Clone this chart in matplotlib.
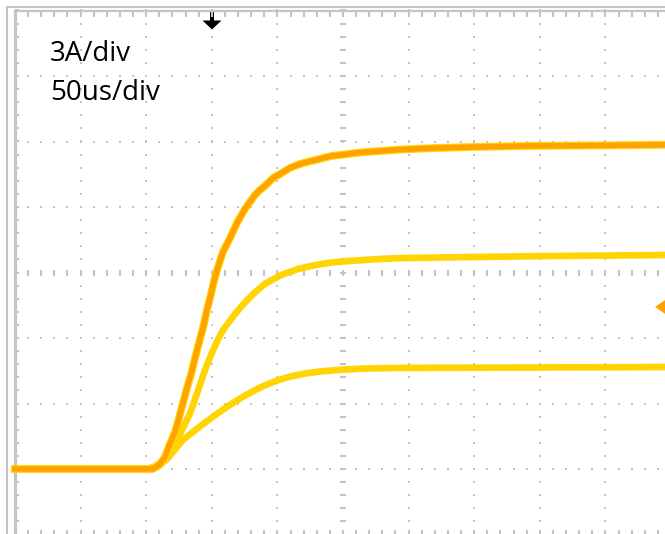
import matplotlib
matplotlib.use('Agg')
import matplotlib.pyplot as plt
import numpy as np
from matplotlib.patches import Polygon
from matplotlib.collections import LineCollection

# Scope capture: 3 A/div, 50 us/div, three current steps
# time in us, current in A (0 A sits one division above the bottom)
t_big = [0, 105, 110.5, 114.3, 118.1, 122, 125, 128, 131.1, 134.2, 137.2, 140.2, 143.3,
         146.3, 149.4, 151.7, 154.7, 158.5, 163.9, 169.2, 175.3, 179.1, 182.9, 186.7,
         190.5, 196.7, 202, 209.6, 217.2, 222.6, 228.7, 234.8, 241.6, 247.7, 259.1,
         268.3, 282, 293.4, 320, 350, 395, 450, 496]
i_big = [0, 0, 0.23, 0.55, 1.15, 1.7, 2.34, 3.02, 3.71, 4.35, 5.08, 5.77, 6.46,
         7.28, 8.01, 8.61, 9.25, 9.94, 10.58, 11.27, 11.91, 12.23, 12.55, 12.78,
         12.96, 13.33, 13.51, 13.79, 13.97, 14.06, 14.15, 14.24, 14.34, 14.38, 14.47,
         14.52, 14.58, 14.63, 14.7, 14.75, 14.8, 14.82, 14.85]

t_mid = [0, 103, 110, 115, 120.4, 127, 133.4, 138.7, 144.8, 149.4, 154, 158.5, 163.9,
         167.7, 171.5, 175.3, 182.9, 190.5, 202.7, 215.7, 228.7, 241.6, 255.3, 278.2,
         293.4, 400, 496]
i_mid = [0, 0, 0.15, 0.45, 1.0, 1.75, 2.55, 3.45, 4.53, 5.22, 5.85, 6.35, 6.8,
         7.1, 7.37, 7.63, 8.09, 8.48, 8.88, 9.16, 9.34, 9.46, 9.53, 9.62,
         9.66, 9.75, 9.8]

t_low = [0, 100, 106, 112, 115.9, 122, 128, 134.9, 141, 147.1, 154, 160, 166, 175.3,
         184.5, 190.5, 196.7, 202.7, 209.6, 217.2, 222.6, 234.8, 247.7, 265.2, 293.4,
         400, 496]
i_low = [0, 0, 0.1, 0.3, 0.45, 0.9, 1.33, 1.66, 1.95, 2.23, 2.53, 2.78, 3.02, 3.36,
         3.66, 3.83, 3.98, 4.11, 4.23, 4.33, 4.39, 4.48, 4.54, 4.60, 4.63,
         4.65, 4.67]

labels = ['3A/div', '50us/div']

ORANGE = '#FFA200'
YELLOW = '#FFD400'
GRID = '#c4c4c4'

# pixel -> data helpers for the screen furniture
def tx(px):
    return (px - 15) * 50 / 65.6

def iy(py):
    return (469 - py) * 3 / 65.5

fig = plt.figure(figsize=(6.65, 5.34), dpi=100)
ax = fig.add_axes([0, 0, 1, 1])
ax.set_xlim(tx(0), tx(665))
ax.set_ylim(iy(534), iy(0))
ax.set_axis_off()

# outer frame of the screenshot
ax.plot([tx(7), tx(7)], [iy(534), iy(7)], color=GRID, lw=1.5)
ax.plot([tx(7), tx(665)], [iy(7), iy(7)], color=GRID, lw=1.5)

# dotted graticule
sub_i = np.arange(-3, 21.01, 0.6)
sub_t = np.arange(0, 500.1, 10)
for k in range(1, 10):
    if k == 5:
        continue
    ax.scatter(np.full(len(sub_i), 50 * k), sub_i, s=3, marker='s', color=GRID, linewidths=0)
for m in range(1, 8):
    if m == 4:
        continue
    ax.scatter(sub_t, np.full(len(sub_t), -3 + 3 * m), s=3, marker='s', color=GRID, linewidths=0)

# centre cross with dashes
ax.plot(np.full(len(sub_i), 250), sub_i, ls='none', marker='_', ms=4.5, mew=1.5, color=GRID)
ax.plot(sub_t, np.full(len(sub_t), 9), ls='none', marker='|', ms=4.5, mew=1.5, color=GRID)

# screen edges with ticks
ax.plot([0, 0], [-3, 21], color=GRID, lw=2.2)
ax.plot([0, 500], [21, 21], color=GRID, lw=1.6)
ticks = [[(0, v), (tx(19), v)] for v in sub_i]
ticks += [[(v, 21), (v, iy(17))] for v in sub_t]
ticks += [[(v, -3), (v, iy(530))] for v in sub_t]
ax.add_collection(LineCollection(ticks, colors=GRID, linewidths=1.5))

# traces
ax.plot(t_low, i_low, color=YELLOW, lw=4.8, solid_joinstyle='round')
ax.plot(t_mid, i_mid, color=YELLOW, lw=4.8, solid_joinstyle='round')
ax.plot(t_big, i_big, color=YELLOW, lw=5.6, solid_joinstyle='round')
ax.plot(t_big, i_big, color=ORANGE, lw=3.9, solid_joinstyle='round')

# trigger position arrow
ax.add_patch(Polygon([(tx(210), iy(12)), (tx(214), iy(12)), (tx(214), iy(20.5)),
                      (tx(221.5), iy(20.5)), (tx(212), iy(29.5)), (tx(202.5), iy(20.5)),
                      (tx(210), iy(20.5))], closed=True, color='black', lw=0))
# trigger level marker
ax.add_patch(Polygon([(tx(655), iy(307)), (tx(668), iy(298)), (tx(668), iy(316))],
                     closed=True, color=ORANGE, lw=0))

ax.text(tx(50), iy(61), labels[0], fontsize=20, family='Open Sans', va='baseline', ha='left')
ax.text(tx(50), iy(100), labels[1], fontsize=20, family='Open Sans', va='baseline', ha='left')

fig.savefig('out.png', dpi=100, facecolor='white')
